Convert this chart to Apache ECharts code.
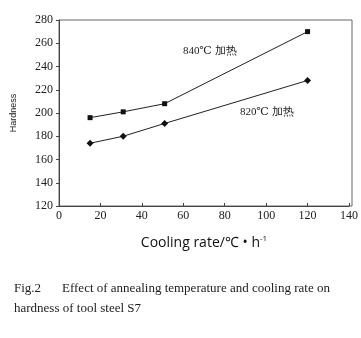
<!DOCTYPE html>
<html><head><meta charset="utf-8">
<script src="https://cdn.jsdelivr.net/npm/echarts@6/dist/echarts.min.js"></script>
<style>html,body{margin:0;padding:0;background:#fff}#c{width:361px;height:338px}</style>
</head><body><div id="c"></div>
<script>
const coolingRates = [15, 31, 51, 120];
const hardness840 = [196, 201, 208, 270];
const hardness820 = [174, 180, 191, 228];
const label840 = '840℃ 加热';
const label820 = '820℃ 加热';
const xTicks = [0, 20, 40, 60, 80, 100, 120, 140];
const yTicks = [120, 140, 160, 180, 200, 220, 240, 260, 280];

const chart = echarts.init(document.getElementById('c'));
const serif = '"Liberation Serif", "DejaVu Serif", serif';
chart.setOption({
  backgroundColor: '#fff',
  animation: false,
  grid: {left: 59, top: 20, right: 9, bottom: 132},
  xAxis: {
    type: 'value', min: xTicks[0], max: xTicks[xTicks.length-1], interval: 20,
    name: '{a|Cooling rate/℃ • h}{s|-1}', nameLocation: 'middle', nameGap: 29,
    nameTextStyle: {rich: {
      a: {fontFamily: '"Open Sans", sans-serif', fontSize: 14, color: '#111'},
      s: {fontFamily: '"Open Sans", sans-serif', fontSize: 8, color: '#111', verticalAlign: 'top', padding: [0,0,8,0]}
    }},
    axisLine: {show: true, lineStyle: {color: '#444', width: 1}},
    axisTick: {show: true, inside: true, length: 3, lineStyle: {color: '#444'}},
    axisLabel: {color: '#222', fontFamily: serif, fontSize: 12, margin: 4},
    splitLine: {show: false}
  },
  yAxis: {
    type: 'value', min: yTicks[0], max: yTicks[yTicks.length-1], interval: 20,
    name: 'Hardness', nameLocation: 'middle', nameGap: 41,
    nameTextStyle: {fontFamily: '"Liberation Sans", sans-serif', fontSize: 9, color: '#222'},
    axisLine: {show: true, lineStyle: {color: '#444', width: 1}},
    axisTick: {show: true, inside: false, length: 3, lineStyle: {color: '#444'}},
    axisLabel: {color: '#222', fontFamily: serif, fontSize: 12, margin: 6},
    splitLine: {show: false}
  },
  series: [
    {type: 'line', name: label840, data: coolingRates.map((x,i)=>[x, hardness840[i]]),
     symbol: 'rect', symbolSize: 5, lineStyle: {color: '#222', width: 1}, itemStyle: {color: '#111'}},
    {type: 'line', name: label820, data: coolingRates.map((x,i)=>[x, hardness820[i]]),
     symbol: 'diamond', symbolSize: 7, lineStyle: {color: '#222', width: 1}, itemStyle: {color: '#111'}}
  ],
  graphic: [
    {type: 'rect', shape: {x: 59, y: 20, width: 293, height: 186}, style: {fill: 'none', stroke: '#666', lineWidth: 1}, silent: true},
    {type: 'text', left: 183, top: 46, style: {text: label840, font: '11px ' + serif, fill: '#222'}},
    {type: 'text', left: 240, top: 107, style: {text: label820, font: '11px ' + serif, fill: '#222'}},
    {type: 'text', left: 14, top: 282, style: {text: 'Fig.2', font: '13px ' + serif, fill: '#222'}},
    {type: 'text', left: 62, top: 282, style: {text: 'Effect of annealing temperature and cooling rate on', font: '13px ' + serif, fill: '#222'}},
    {type: 'text', left: 14, top: 302, style: {text: 'hardness of tool steel S7', font: '13px ' + serif, fill: '#222'}}
  ]
});
</script></body></html>
